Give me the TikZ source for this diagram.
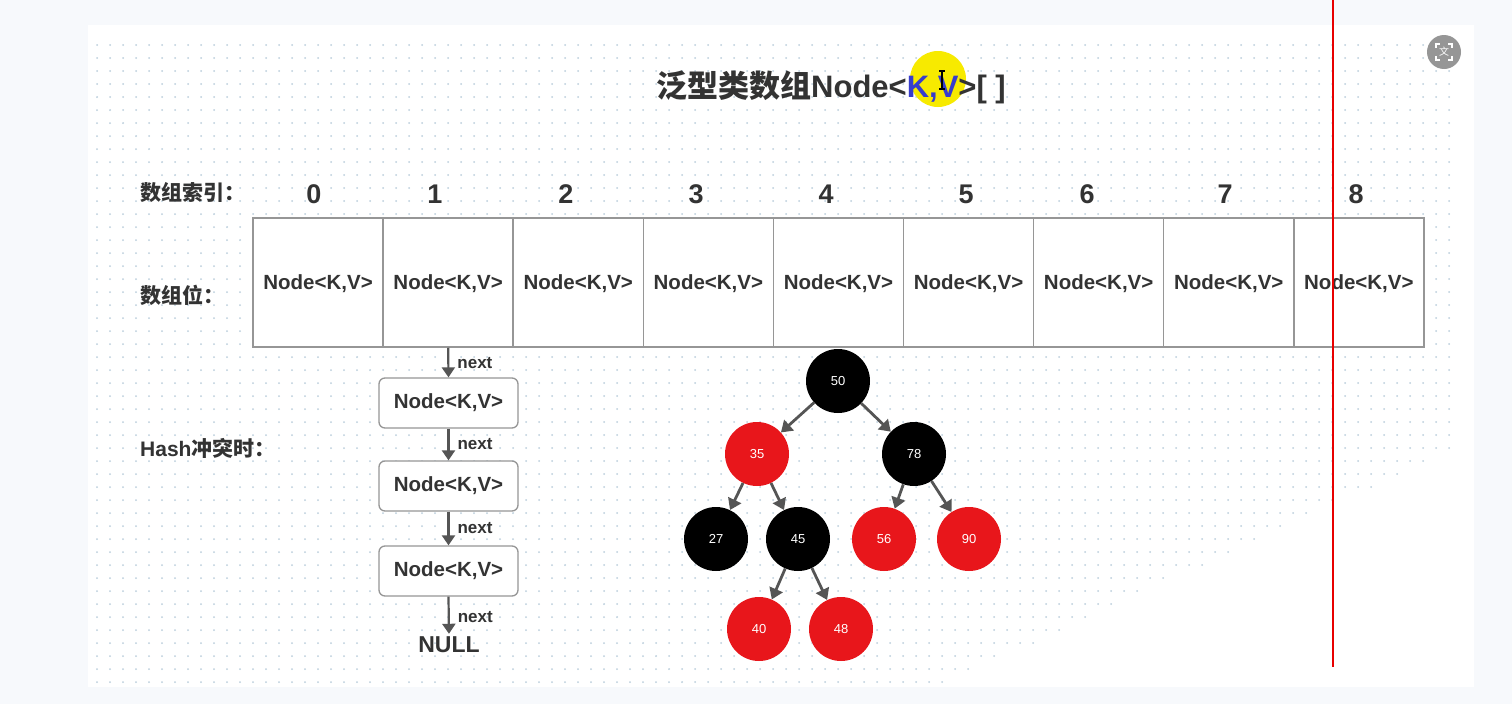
\documentclass[tikz,border=0pt]{standalone}
\usepackage{fontspec}
\setmainfont{Liberation Sans}
\newfontfamily\cjk{Noto Sans CJK SC}
\usetikzlibrary{arrows.meta}
\definecolor{bgc}{RGB}{247,249,252}
\definecolor{txt}{RGB}{51,51,51}
\definecolor{kvblue}{RGB}{55,60,205}
\definecolor{rbred}{RGB}{232,22,27}
\definecolor{arrc}{RGB}{85,85,85}
\definecolor{cellline}{RGB}{150,150,150}
\definecolor{dotc}{RGB}{188,206,220}
\definecolor{hl}{RGB}{247,234,0}
\definecolor{redline}{RGB}{232,0,0}
\definecolor{icong}{RGB}{150,150,150}
\begin{document}
\begin{tikzpicture}[x=1pt,y=-1pt,
  cell/.style={draw=cellline,line width=1.5pt,fill=white,minimum width=130.1pt,minimum height=129pt,inner sep=0pt,text depth=0pt,font=\fontsize{20.5}{24}\selectfont\bfseries,text=txt},
  chainbox/.style={draw=cellline,line width=1.3pt,fill=white,rounded corners=6pt,minimum width=139pt,minimum height=50pt,inner sep=0pt,font=\fontsize{20.5}{24}\selectfont\bfseries,text=txt},
  idx/.style={font=\fontsize{27}{30}\selectfont\bfseries,text=txt,inner sep=0pt},
  lbl/.style={anchor=west,font=\fontsize{21}{24}\selectfont\bfseries,text=txt,inner sep=0pt},
  nextl/.style={right,xshift=7pt,inner sep=1pt,font=\fontsize{17}{20}\selectfont\bfseries,text=txt},
  arrowst/.style={draw=arrc,line width=2.2pt,-{Triangle[width=13pt,length=10pt]}},
  treearr/.style={draw=arrc,line width=2.8pt,-{Triangle[width=14pt,length=11pt]}},
  rbn/.style={circle,fill=rbred,minimum size=64pt,inner sep=0pt,text=white,font=\fontsize{13}{15}\selectfont},
  bkn/.style={circle,fill=black,minimum size=64pt,inner sep=0pt,text=white,font=\fontsize{13}{15}\selectfont}
]
\useasboundingbox (0,0) rectangle (1512,704);
\fill[bgc] (0,0) rectangle (1512,704);
\fill[white] (88,25) rectangle (1474,687);
% dot grid
\foreach \i in {0,...,104}{
  \pgfmathsetmacro\xx{97+13*\i}
  \pgfmathsetmacro\ym{min(682,553+(1230-\xx)*0.4615)}
  \fill[dotc] \foreach \yy in {45,58,...,\ym}{(\xx,\yy) circle[radius=1.0]};
}
% highlight
\fill[hl] (938,79) circle[radius=28];
% title
\node[anchor=base,inner sep=0pt,text=txt,font=\fontsize{31}{35}\selectfont\bfseries] (title) at (831,97)
  {{\cjk 泛型类数组}Node<{\color{kvblue}K,V}>[ ]};
% cursor
\draw[black,line width=1.2pt] (942,71) -- (942,89) (939,71) -- (945,71) (939,89) -- (945,89);
% labels
\node[lbl] (l1) at (140,193) {\cjk 数组索引：};
\node[lbl] (l2) at (140,295) {\cjk 数组位：};
\node[lbl] (l3) at (140,448) {Hash{\cjk 冲突时：}};
% index numbers
\foreach \n/\x in {0/314,1/435,2/566,3/696,4/826,5/966,6/1087,7/1225,8/1356}{
  \node[idx] (i\n) at (\x,194) {\n};
}
% cells
\foreach \n in {0,...,8}{
  \node[cell] (c\n) at ({318.05+130.1*\n},282.5) {Node<K,V>};
}
% chain
\node[chainbox] (n1) at (448.5,403) {Node<K,V>};
\node[chainbox] (n2) at (448.5,486) {Node<K,V>};
\node[chainbox] (n3) at (448.5,571) {Node<K,V>};
\node[inner sep=0pt,text=txt,font=\fontsize{23}{26}\selectfont\bfseries] (null) at (449,645) {NULL};
\draw[arrowst] (c1.south) -- node[nextl]{next} (n1.north);
\draw[arrowst] (n1.south) -- node[nextl]{next} (n2.north);
\draw[arrowst] (n2.south) -- node[nextl]{next} (n3.north);
\draw[arrowst,shorten >=3pt] (n3.south) -- node[nextl]{next} (null.north);
% tree
\node[bkn] (t50) at (838,381) {50};
\node[rbn] (t35) at (757,454) {35};
\node[bkn] (t78) at (914,454) {78};
\node[bkn] (t27) at (716,539) {27};
\node[bkn] (t45) at (798,539) {45};
\node[rbn] (t56) at (884,539) {56};
\node[rbn] (t90) at (969,539) {90};
\node[rbn] (t40) at (759,629) {40};
\node[rbn] (t48) at (841,629) {48};
\draw[treearr] (t50) -- (t35);
\draw[treearr] (t50) -- (t78);
\draw[treearr] (t35) -- (t27);
\draw[treearr] (t35) -- (t45);
\draw[treearr] (t78) -- (t56);
\draw[treearr] (t78) -- (t90);
\draw[treearr] (t45) -- (t40);
\draw[treearr] (t45) -- (t48);
% translate icon
\node[circle,fill=icong,minimum size=34pt,inner sep=0pt,text=white,font=\cjk\fontsize{10}{11}\selectfont] (icon) at (1444,52) {文};
\draw[white,line width=1.2pt] (1436,48) -- (1436,44) -- (1440,44) (1448,44) -- (1452,44) -- (1452,48)
  (1452,56) -- (1452,60) -- (1448,60) (1440,60) -- (1436,60) -- (1436,56);
% red line
\coordinate (rtop) at (1333,0);
\coordinate (rbot) at (1333,667);
\draw[redline,line width=2.5pt] (rtop) -- (rbot);
\end{tikzpicture}
\end{document}
